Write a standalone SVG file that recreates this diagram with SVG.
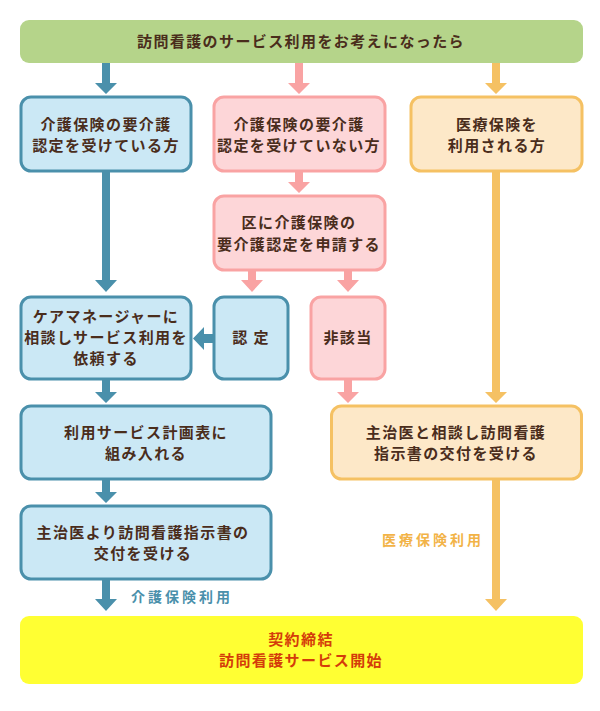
<svg xmlns="http://www.w3.org/2000/svg" width="600" height="711" viewBox="0 0 600 711">
<style>
text{font-family:"Noto Sans CJK JP","Noto Sans",sans-serif;font-weight:bold;font-size:15px;letter-spacing:1.4px;text-anchor:middle;fill:#4a2d1c}
.b rect{fill:#cbe8f5;stroke:#4a90ab;stroke-width:3}
.p rect{fill:#fdd6d8;stroke:#f9a3a3;stroke-width:3}
.o rect{fill:#fde8c8;stroke:#f5c163;stroke-width:3}
.ab{fill:#4a90ab}.ap{fill:#f9a3a3}.ao{fill:#f5c163}
.lab{font-size:14px;letter-spacing:3px}
</style>
<rect width="600" height="711" fill="#fff"/>
<g id="connectors">
<polygon class="ab" points="102,63 110,63 110,83 117,83 106,94 95,83 102,83"/>
<polygon class="ap" points="295,63 303,63 303,83 310,83 299,94 288,83 295,83"/>
<polygon class="ao" points="492,63 500,63 500,83 507,83 496,94 485,83 492,83"/>
<polygon class="ab" points="102,171 110,171 110,280 117,280 106,292 95,280 102,280"/>
<polygon class="ap" points="295,171 303,171 303,182 310,182 299,193 288,182 295,182"/>
<polygon class="ao" points="492,171 500,171 500,392 507,392 496,403 485,392 492,392"/>
<polygon class="ap" points="248,270 256,270 256,280 263,280 252,292 241,280 248,280"/>
<polygon class="ap" points="344,270 352,270 352,280 359,280 348,292 337,280 344,280"/>
<polygon class="ab" points="214,334 204,334 204,327 193,338.5 204,350 204,343 214,343"/>
<polygon class="ab" points="102,379 110,379 110,392 117,392 106,403 95,392 102,392"/>
<polygon class="ap" points="344,379 352,379 352,392 359,392 348,403 337,392 344,392"/>
<polygon class="ab" points="102,479 110,479 110,492 117,492 106,503 95,492 102,492"/>
<polygon class="ab" points="102,579 110,579 110,599 117,599 106,611 95,599 102,599"/>
<polygon class="ao" points="492,479 500,479 500,599 507,599 496,611 485,599 492,599"/>
<text class="lab" x="182" y="602" style="fill:#4a90ab">介護保険利用</text>
<text class="lab" x="433" y="545" style="fill:#f2b347">医療保険利用</text>
</g>
<g id="start">
<rect x="20" y="20" width="563" height="43" rx="9" fill="#b5d48a"/>
<text x="301" y="47">訪問看護のサービス利用をお考えになったら</text>
</g>
<g id="n1" class="b">
<rect x="21" y="97" width="170" height="74" rx="10"/>
<text x="106" y="130">介護保険の要介護</text>
<text x="106" y="151">認定を受けている方</text>
</g>
<g id="n2" class="p">
<rect x="214" y="97" width="171" height="74" rx="10"/>
<text x="299" y="130">介護保険の要介護</text>
<text x="299" y="151">認定を受けていない方</text>
</g>
<g id="n3" class="o">
<rect x="411" y="97" width="171" height="74" rx="10"/>
<text x="497" y="130">医療保険を</text>
<text x="497" y="151">利用される方</text>
</g>
<g id="n4" class="p">
<rect x="214" y="196" width="171" height="74" rx="10"/>
<text x="299" y="228">区に介護保険の</text>
<text x="299" y="250">要介護認定を申請する</text>
</g>
<g id="n5" class="b">
<rect x="21" y="297" width="170" height="82" rx="10"/>
<text x="106" y="322">ケアマネージャーに</text>
<text x="106" y="343">相談しサービス利用を</text>
<text x="106" y="364">依頼する</text>
</g>
<g id="n6" class="b">
<rect x="214" y="297" width="74" height="82" rx="10"/>
<text x="251" y="343">認 定</text>
</g>
<g id="n7" class="p">
<rect x="311" y="297" width="74" height="82" rx="10"/>
<text x="348" y="343">非該当</text>
</g>
<g id="n8" class="b">
<rect x="21" y="406" width="250" height="73" rx="10"/>
<text x="146" y="438">利用サービス計画表に</text>
<text x="146" y="459">組み入れる</text>
</g>
<g id="n9" class="o">
<rect x="331.5" y="406" width="250" height="73" rx="10"/>
<text x="456" y="438">主治医と相談し訪問看護</text>
<text x="456" y="459">指示書の交付を受ける</text>
</g>
<g id="n10" class="b">
<rect x="21" y="506" width="250" height="73" rx="10"/>
<text x="143" y="538">主治医より訪問看護指示書の</text>
<text x="143" y="559">交付を受ける</text>
</g>
<g id="end">
<rect x="20" y="616" width="563" height="68" rx="9" fill="#ffff33"/>
<text x="301" y="645" style="fill:#d43c0a">契約締結</text>
<text x="301" y="666" style="fill:#d43c0a">訪問看護サービス開始</text>
</g>
</svg>
